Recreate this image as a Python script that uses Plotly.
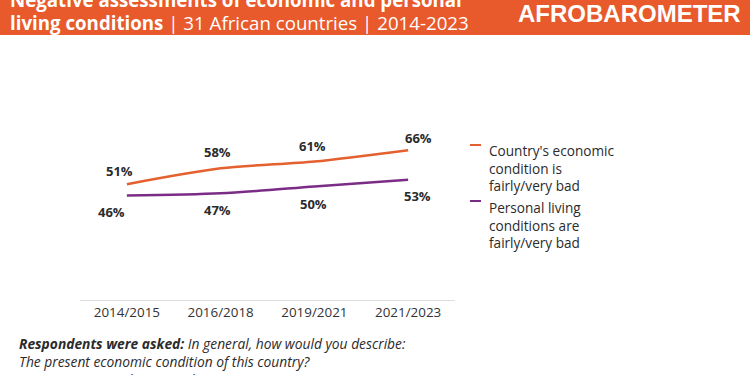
import plotly.graph_objects as go

# ---- data ----
categories = ["2014/2015", "2016/2018", "2019/2021", "2021/2023"]
economic_bad = [51, 58, 61, 66]
personal_bad = [46, 47, 50, 53]
series_names = ["Country's economic<br>condition is<br>fairly/very bad",
                "Personal living<br>conditions are<br>fairly/very bad"]

ORANGE = "#E4602F"
PURPLE = "#7B2C86"
BAND = "#E8592B"
TXT = "#2b2b2b"
FONT = "Open Sans"

W, H = 750, 375
L, R, T, B = 80, 295, 73, 75
PW, PH = W - L - R, H - T - B


def px(xpix):
    return (xpix - L) / PW


def py(ypix):
    return (H - B - ypix) / PH


fig = go.Figure()
fig.add_trace(go.Scatter(x=categories, y=economic_bad, mode="lines",
                         line=dict(color=ORANGE, width=2.5, shape="spline", smoothing=0.8),
                         name="economic", showlegend=False, hoverinfo="skip"))
fig.add_trace(go.Scatter(x=categories, y=personal_bad, mode="lines",
                         line=dict(color=PURPLE, width=2.5, shape="spline", smoothing=0.8),
                         name="personal", showlegend=False, hoverinfo="skip"))

annotations = []
# data labels
eco_xshift = [-7, -3, -2, 10]
eco_yshift = [13, 16, 16, 12]
per_xshift = [-15, -3, -1, 9]
per_yshift = [-16, -17, -17, -16]
for i, c in enumerate(categories):
    annotations.append(dict(x=c, y=economic_bad[i], text=f"{economic_bad[i]}%",
                            showarrow=False, xshift=eco_xshift[i], yshift=eco_yshift[i],
                            font=dict(family=FONT, size=13, color=TXT, weight="bold")))
    annotations.append(dict(x=c, y=personal_bad[i], text=f"{personal_bad[i]}%",
                            showarrow=False, xshift=per_xshift[i], yshift=per_yshift[i],
                            font=dict(family=FONT, size=13, color=TXT, weight="bold")))

# legend (manual)
shapes = []
leg_colors = [ORANGE, PURPLE]
leg_marker_y = [145, 201]
leg_text_mid = [168, 225]
for k in range(2):
    shapes.append(dict(type="line", xref="paper", yref="paper",
                       x0=px(470), x1=px(481), y0=py(leg_marker_y[k]), y1=py(leg_marker_y[k]),
                       line=dict(color=leg_colors[k], width=2)))
    annotations.append(dict(xref="paper", yref="paper", x=px(487), y=py(leg_text_mid[k]),
                            xanchor="left", yanchor="middle", align="left", showarrow=False,
                            text=series_names[k],
                            font=dict(family=FONT, size=13.6, color=TXT)))

# header band
shapes.append(dict(type="rect", xref="paper", yref="paper", x0=px(0), x1=px(W), y0=py(35), y1=py(-5),
                   fillcolor=BAND, line=dict(width=0), layer="below"))
annotations.append(dict(xref="paper", yref="paper", x=px(8), y=py(0), xanchor="left", yanchor="middle",
                        showarrow=False, text="<b>Negative assessments of economic and personal</b>",
                        font=dict(family=FONT, size=18.7, color="white")))
annotations.append(dict(xref="paper", yref="paper", x=px(8), y=py(22), xanchor="left", yanchor="middle",
                        showarrow=False,
                        text="<b>living conditions</b> | 31 African countries | 2014-2023",
                        font=dict(family=FONT, size=18.7, color="white")))
annotations.append(dict(xref="paper", yref="paper", x=px(629), y=py(14), xanchor="center", yanchor="middle",
                        showarrow=False, text="<b>AFROBAROMETER</b>",
                        font=dict(family="Liberation Sans", size=24, color="white")))

# footnote
foot_lines = ["<b>Respondents were asked:</b> In general, how would you describe:",
              "The present economic condition of this country?",
              "Your own present living conditions?"]
for j, line in enumerate(foot_lines):
    annotations.append(dict(xref="paper", yref="paper", x=px(17), y=py(343 + 18 * j),
                            xanchor="left", yanchor="middle", showarrow=False,
                            text=f"<i>{line}</i>",
                            font=dict(family=FONT, size=13.8, color=TXT)))

fig.update_layout(
    width=W, height=H,
    margin=dict(l=L, r=R, t=T, b=B, pad=0),
    paper_bgcolor="white", plot_bgcolor="white",
    xaxis=dict(type="category", range=[-0.5, 3.5], showgrid=False, zeroline=False,
               showline=True, linecolor="#dddddd", linewidth=1, ticks="",
               tickfont=dict(family=FONT, size=13.4, color="#333333")),
    yaxis=dict(range=[0, 100], visible=False, showgrid=False, zeroline=False),
    annotations=annotations, shapes=shapes, showlegend=False,
)

fig.write_html("out.html", config={"displayModeBar": False},
               post_script="document.body.style.margin='0px';document.body.style.overflow='hidden';")
